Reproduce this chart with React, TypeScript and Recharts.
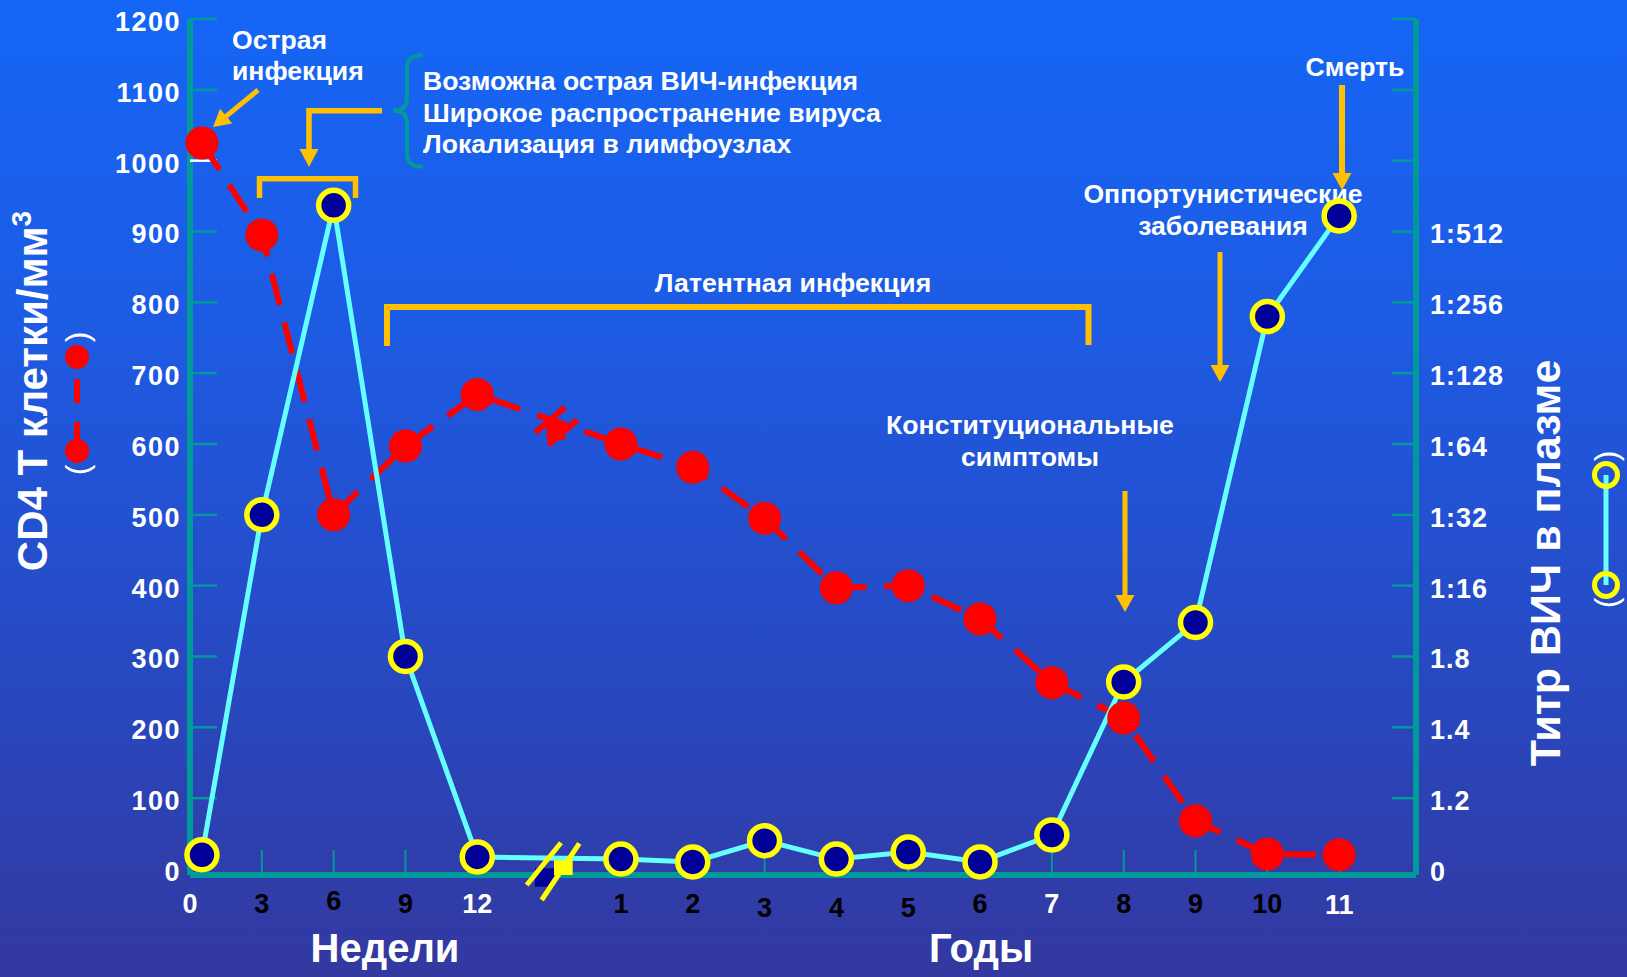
import React from 'react';
import { LineChart, Line, XAxis, YAxis } from 'recharts';

// ---- canvas & palette ----
const W = 1627;
const H = 977;
const FONT = '"Liberation Sans", Arial, Helvetica, sans-serif';
const TEAL = '#009A9A';
const GOLD = '#FFC000';
const RED = '#FF0000';
const CYAN = '#66FFFF';
const NAVY = '#000099';
const YELLOW = '#FFFF00';
const WHITE = '#FFFFFF';

// ---- time axis: first part in weeks, then (after a break) in years ----
const weekTicks = [0, 3, 6, 9, 12];
const yearTicks = [1, 2, 3, 4, 5, 6, 7, 8, 9, 10, 11];
// colour of each time-axis label, in axis order
const timeLabelColors = ['#fff', '#000', '#000', '#000', '#fff', '#000', '#000', '#000', '#000', '#000', '#000', '#fff', '#000', '#000', '#000', '#fff'];
// small vertical nudges of the time-axis labels
const timeLabelNudge = [0, 0, -3, 0, 0, 0, 0, 4, 4, 4, 0, 0, 0, 0, 0, 1];

// ---- observations ----
const sampleUnits = ['w', 'w', 'w', 'w', 'w', 'y', 'y', 'y', 'y', 'y', 'y', 'y', 'y', 'y', 'y', 'y'];
const sampleTimes = [0.5, 3, 6, 9, 12, 1, 2, 3, 4, 5, 6, 7, 8, 9, 10, 11];
// CD4 T cells per mm3
const cd4Count = [1025, 895, 500, 597, 670, 600, 567, 495, 397, 400, 353, 263, 213, 68, 21, 20];
// plasma HIV titer, as a position on the titer scale (in tick steps)
const titerLevel = [0.2, 5.0, 9.37, 3.0, 0.17, 0.14, 0.1, 0.4, 0.14, 0.24, 0.1, 0.48, 2.64, 3.48, 7.8, 9.22];

// ---- vertical axes ----
const cd4Ticks = [0, 100, 200, 300, 400, 500, 600, 700, 800, 900, 1000, 1100, 1200];
const titerTicks = [0, 1, 2, 3, 4, 5, 6, 7, 8, 9, 10, 11, 12];
const titerLabels = ['0', '1.2', '1.4', '1.8', '1:16', '1:32', '1:64', '1:128', '1:256', '1:512', '', '', ''];

// weeks and years share one axis; one empty slot marks the break
const WEEKS_PER_SLOT = 3;
const YEAR_OFFSET = 5;
const toSlot = (unit: string, v: number) => (unit === 'w' ? v / WEEKS_PER_SLOT : YEAR_OFFSET + v);

const timeTicks = [
  ...weekTicks.map((w) => ({ slot: toSlot('w', w), label: String(w) })),
  ...yearTicks.map((y) => ({ slot: toSlot('y', y), label: String(y) })),
];

const rows = sampleTimes.map((t, i) => ({
  slot: toSlot(sampleUnits[i], t),
  cd4: cd4Count[i],
  titer: titerLevel[i],
}));

const X_DOMAIN: [number, number] = [0, 17.07];
const CD4_DOMAIN: [number, number] = [-8.5, 1200];
const TITER_DOMAIN: [number, number] = [-0.085, 12];

const tickText = {
  fontFamily: FONT,
  fontWeight: 700,
  fontSize: 27,
  letterSpacing: 1.5,
};

const TimeTick = (props: any) => {
  const { x, y, index } = props;
  const t = timeTicks[index];
  if (!t) return null;
  return (
    <g>
      {index > 0 && <line x1={x} x2={x} y1={y} y2={y - 25} stroke={TEAL} strokeWidth={2} />}
      <text
        x={x}
        y={y + 38 + (timeLabelNudge[index] || 0)}
        textAnchor="middle"
        fill={timeLabelColors[index]}
        fontFamily={FONT}
        fontWeight={700}
        fontSize={27}
      >
        {t.label}
      </text>
    </g>
  );
};

const Cd4Tick = (props: any) => {
  const { x, y, payload } = props;
  const v = payload.value;
  return (
    <g>
      {v !== 0 && (
        <line x1={x} x2={x + 27} y1={y} y2={y} stroke={v === 1000 ? WHITE : TEAL} strokeWidth={2.5} />
      )}
      <text x={x - 9} y={y + 12} textAnchor="end" fill={WHITE} {...tickText}>
        {v}
      </text>
    </g>
  );
};

const TiterTick = (props: any) => {
  const { x, y, payload } = props;
  const v = payload.value;
  return (
    <g>
      {v !== 0 && <line x1={x - 24} x2={x} y1={y} y2={y} stroke={TEAL} strokeWidth={2.5} />}
      <text x={x + 14} y={y + 12} textAnchor="start" fill={WHITE} {...tickText} letterSpacing={1}>
        {titerLabels[v]}
      </text>
    </g>
  );
};

// straight arrow with a filled head at (x2, y2)
const Arrow = ({ x1, y1, x2, y2, w = 6, head = 19, len = 17 }: any) => {
  const dx = x2 - x1;
  const dy = y2 - y1;
  const L = Math.hypot(dx, dy);
  const ux = dx / L;
  const uy = dy / L;
  const bx = x2 - ux * len;
  const by = y2 - uy * len;
  const nx = -uy;
  const ny = ux;
  return (
    <g>
      <line x1={x1} y1={y1} x2={bx + ux} y2={by + uy} stroke={GOLD} strokeWidth={w} />
      <polygon
        points={`${x2},${y2} ${bx + (nx * head) / 2},${by + (ny * head) / 2} ${bx - (nx * head) / 2},${by - (ny * head) / 2}`}
        fill={GOLD}
      />
    </g>
  );
};

const note = {
  fill: WHITE,
  fontFamily: FONT,
  fontWeight: 700,
  fontSize: 26.6,
};

// annotations drawn underneath the series
const BackNotes = () => (
  <svg width={W} height={H} style={{ position: 'absolute', left: 0, top: 0 }}>
    {/* axis titles */}
    <text
      x={47}
      y={391}
      transform="rotate(-90 47 391)"
      textAnchor="middle"
      fill={WHITE}
      fontFamily={FONT}
      fontWeight={700}
      fontSize={42}
    >
      CD4 Т клетки/мм
      <tspan fontSize={28} dy={-16}>3</tspan>
    </text>
    <text
      x={1560}
      y={563}
      transform="rotate(-90 1560 563)"
      textAnchor="middle"
      fill={WHITE}
      fontFamily={FONT}
      fontWeight={700}
      fontSize={43}
    >
      Титр ВИЧ в плазме
    </text>
    <text x={385} y={962} textAnchor="middle" fill={WHITE} fontFamily={FONT} fontWeight={700} fontSize={40}>
      Недели
    </text>
    <text x={981} y={962} textAnchor="middle" fill={WHITE} fontFamily={FONT} fontWeight={700} fontSize={40}>
      Годы
    </text>

    {/* legend keys beside the axis titles */}
    <g>
      <text x={77} y={337} transform="rotate(-90 77 337)" textAnchor="middle" dominantBaseline="central" fill={WHITE} fontFamily={FONT} fontSize={32}>
        )
      </text>
      <text x={77} y={470} transform="rotate(-90 77 470)" textAnchor="middle" dominantBaseline="central" fill={WHITE} fontFamily={FONT} fontSize={32}>
        (
      </text>
      <line x1={77} x2={77} y1={379} y2={403} stroke={RED} strokeWidth={6} />
      <line x1={77} x2={77} y1={422} y2={445} stroke={RED} strokeWidth={6} />
      <circle cx={77} cy={357} r={12} fill={RED} />
      <circle cx={77} cy={451} r={12} fill={RED} />
    </g>
    <g>
      <text x={1606} y={456} transform="rotate(-90 1606 456)" textAnchor="middle" dominantBaseline="central" fill={WHITE} fontFamily={FONT} fontSize={32}>
        )
      </text>
      <text x={1606} y={603} transform="rotate(-90 1606 603)" textAnchor="middle" dominantBaseline="central" fill={WHITE} fontFamily={FONT} fontSize={32}>
        (
      </text>
      <line x1={1606} x2={1606} y1={475} y2={585} stroke={CYAN} strokeWidth={5} />
      <circle cx={1606} cy={475} r={11.5} fill="none" stroke={YELLOW} strokeWidth={5} />
      <circle cx={1606} cy={585} r={11.5} fill="none" stroke={YELLOW} strokeWidth={5} />
    </g>

    {/* acute infection */}
    <text x={232} y={49} {...note}>Острая</text>
    <text x={232} y={80} {...note}>инфекция</text>
    <Arrow x1={258} y1={90} x2={213} y2={127} w={5} />

    {/* early phase bracket, elbow arrow and brace */}
    <polyline points="259.5,198 259.5,178.8 355.5,178.8 355.5,198" fill="none" stroke={GOLD} strokeWidth={5.5} />
    <polyline points="382,110.7 309,110.7 309,151" fill="none" stroke={GOLD} strokeWidth={5.5} />
    <polygon points="309,167 299.5,149 318.5,149" fill={GOLD} />
    <path
      d="M 423 55 Q 407 55 407 68 L 407 98 Q 407 110.7 393 110.7 Q 407 110.7 407 123 L 407 154 Q 407 166.7 423 166.7"
      fill="none"
      stroke={TEAL}
      strokeWidth={4}
    />
    <text x={423} y={90} {...note}>Возможна острая ВИЧ-инфекция</text>
    <text x={423} y={121.5} {...note}>Широкое распространение вируса</text>
    <text x={423} y={152.5} {...note}>Локализация в лимфоузлах</text>

    {/* latent phase */}
    <text x={793} y={292} textAnchor="middle" {...note}>Латентная инфекция</text>
    <polyline points="387,346 387,307 1088.5,307 1088.5,345" fill="none" stroke={GOLD} strokeWidth={6} />

    {/* constitutional symptoms */}
    <text x={1030} y={434} textAnchor="middle" {...note}>Конституциональные</text>
    <text x={1030} y={466} textAnchor="middle" {...note}>симптомы</text>
    <Arrow x1={1125} y1={491} x2={1125} y2={612} w={5} />

    {/* opportunistic diseases */}
    <text x={1223} y={203} textAnchor="middle" {...note}>Оппортунистические</text>
    <text x={1223} y={235} textAnchor="middle" {...note}>заболевания</text>
    <Arrow x1={1220} y1={252} x2={1220} y2={382} w={5} />

    {/* death */}
    <text x={1355} y={76} textAnchor="middle" {...note}>Смерть</text>
    <Arrow x1={1342} y1={85} x2={1342} y2={190} w={6} />
  </svg>
);

// axis-break marks drawn over the series
const FrontNotes = () => (
  <svg width={W} height={H} style={{ position: 'absolute', left: 0, top: 0, pointerEvents: 'none' }}>
    <g>
      <line x1={535} y1={432.7} x2={565} y2={407.3} stroke={RED} strokeWidth={6} />
      <line x1={548.3} y1={445} x2={577.3} y2={420} stroke={RED} strokeWidth={6} />
      <rect x={546.7} y={421.7} width={18.3} height={18.3} fill={RED} />
    </g>
    <g>
      <rect x={535} y={868.3} width={19} height={18.4} fill={NAVY} />
      <line x1={526.7} y1={885} x2={561} y2={842.7} stroke={YELLOW} strokeWidth={5} />
      <line x1={541.7} y1={900} x2={579.3} y2={843.3} stroke={YELLOW} strokeWidth={5} />
      <rect x={554} y={860} width={18.7} height={15} fill={YELLOW} />
    </g>
  </svg>
);

const layer: React.CSSProperties = { position: 'absolute', left: 0, top: 0 };

export default function App() {
  return (
    <div
      style={{
        position: 'fixed',
        left: 0,
        top: 0,
        width: W,
        height: H,
        overflow: 'hidden',
        background: 'linear-gradient(180deg, #1566F6 0%, #1E5AE2 35%, #2848C0 70%, #33389F 100%)',
        fontFamily: FONT,
      }}
    >
      <BackNotes />
      {/* axes, ticks and labels sit below the series */}
      <div style={layer}>
        <LineChart width={W} height={H} data={rows} margin={{ top: 19, right: 111, bottom: 42, left: 90 }}>
          <XAxis
            type="number"
            dataKey="slot"
            domain={X_DOMAIN}
            ticks={timeTicks.map((t) => t.slot)}
            interval={0}
            height={60}
            tickSize={0}
            tickMargin={0}
            tickLine={false}
            axisLine={{ stroke: TEAL, strokeWidth: 6 }}
            tick={<TimeTick />}
          />
          <YAxis
            yAxisId="cd4"
            type="number"
            domain={CD4_DOMAIN}
            ticks={cd4Ticks}
            interval={0}
            width={100}
            tickSize={0}
            tickMargin={0}
            tickLine={false}
            axisLine={{ stroke: TEAL, strokeWidth: 6 }}
            tick={<Cd4Tick />}
          />
          <YAxis
            yAxisId="titer"
            orientation="right"
            type="number"
            domain={TITER_DOMAIN}
            ticks={titerTicks}
            interval={0}
            width={100}
            tickSize={0}
            tickMargin={0}
            tickLine={false}
            axisLine={{ stroke: TEAL, strokeWidth: 6 }}
            tick={<TiterTick />}
          />
          {/* unstroked series so that both vertical axes get their ticks */}
          <Line yAxisId="cd4" dataKey="cd4" stroke="none" dot={false} activeDot={false} isAnimationActive={false} />
          <Line yAxisId="titer" dataKey="titer" stroke="none" dot={false} activeDot={false} isAnimationActive={false} />
        </LineChart>
      </div>
      {/* the two series, on the same scales */}
      <div style={layer}>
        <LineChart width={W} height={H} data={rows} margin={{ top: 19, right: 211, bottom: 102, left: 190 }}>
          <XAxis type="number" dataKey="slot" domain={X_DOMAIN} hide />
          <YAxis yAxisId="cd4" type="number" domain={CD4_DOMAIN} hide />
          <YAxis yAxisId="titer" orientation="right" type="number" domain={TITER_DOMAIN} hide />
          <Line
            yAxisId="cd4"
            dataKey="cd4"
            type="linear"
            stroke={RED}
            strokeWidth={6}
            strokeDasharray="32 18"
            dot={{ r: 16.5, fill: RED, stroke: 'none', strokeWidth: 0 }}
            activeDot={false}
            isAnimationActive={false}
          />
          <Line
            yAxisId="titer"
            dataKey="titer"
            type="linear"
            stroke={CYAN}
            strokeWidth={5}
            dot={{ r: 15, fill: NAVY, stroke: YELLOW, strokeWidth: 5.5 }}
            activeDot={false}
            isAnimationActive={false}
          />
        </LineChart>
      </div>
      <FrontNotes />
    </div>
  );
}
